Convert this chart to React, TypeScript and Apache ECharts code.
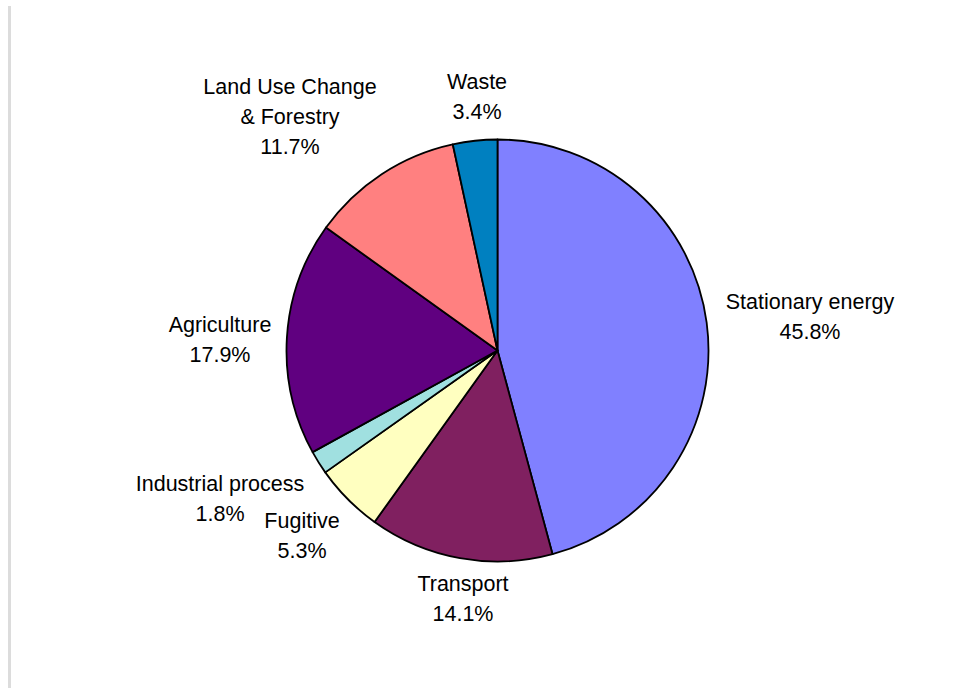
import React, { useEffect, useRef } from "react";
import * as echarts from "echarts";

const categories = [
  "Stationary energy",
  "Transport",
  "Fugitive",
  "Industrial process",
  "Agriculture",
  "Land Use Change\n& Forestry",
  "Waste",
];
const shares = [45.8, 14.1, 5.3, 1.8, 17.9, 11.7, 3.4];
const colors = ["#8080FF", "#802060", "#FFFFC0", "#A0E0E0", "#600080", "#FF8080", "#0080C0"];
// label centre positions (px) as placed in the original chart
const labelX = [810, 463, 302, 220, 220, 290, 477];
const labelY = [317, 599, 536, 499, 340, 117, 97];

export default function App() {
  const ref = useRef<HTMLDivElement>(null);
  useEffect(() => {
    if (!ref.current) return;
    const chart = echarts.init(ref.current, null, { renderer: "svg" });
    chart.setOption({
      animation: false,
      backgroundColor: "#ffffff",
      graphic: [
        { type: "rect", shape: { x: 8, y: 6, width: 3, height: 690 }, style: { fill: "#dcdcdc" }, silent: true },
      ],
      series: [
        {
          type: "pie",
          center: [497.5, 350.5],
          radius: 211,
          startAngle: 90,
          clockwise: true,
          avoidLabelOverlap: false,
          itemStyle: { borderColor: "#000", borderWidth: 1.8 },
          emphasis: { disabled: true },
          labelLine: { show: false },
          label: {
            show: true,
            position: "outside",
            fontFamily: "Liberation Sans, Arial, sans-serif",
            fontSize: 21.5,
            lineHeight: 30,
            color: "#000",
            align: "center",
            formatter: (p: any) => `${p.name}\n${Number(p.value).toFixed(1)}%`,
          },
          labelLayout: (p: any) => ({
            x: labelX[p.dataIndex],
            y: labelY[p.dataIndex],
            align: "center",
            verticalAlign: "middle",
          }),
          data: categories.map((c, i) => ({ name: c, value: shares[i], itemStyle: { color: colors[i] } })),
        },
      ],
    });
    return () => chart.dispose();
  }, []);
  return (
    <div
      ref={ref}
      style={{ position: "fixed", left: 0, top: 0, width: 968, height: 688 }}
    />
  );
}
